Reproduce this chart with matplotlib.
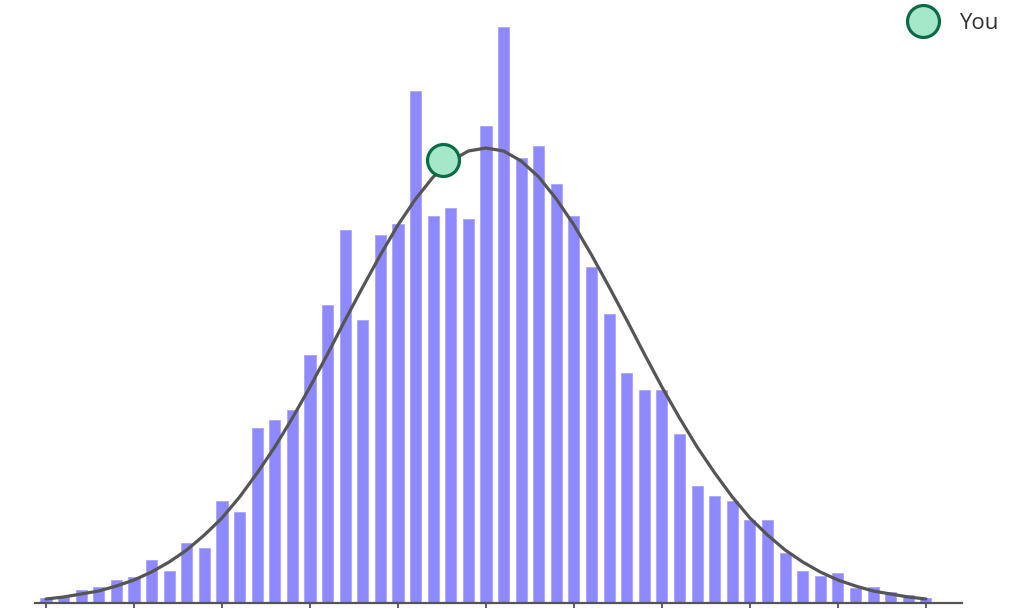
import matplotlib.pyplot as plt
from matplotlib.lines import Line2D

# histogram bins (index) and bar heights
bins = list(range(51))
counts = [5, 6, 13, 16, 23, 26, 43, 32, 60, 55,
          102, 91, 175, 183, 193, 248, 298, 373, 283, 368,
          379, 512, 387, 395, 384, 477, 576, 445, 457, 419,
          387, 336, 289, 230, 213, 213, 169, 117, 107, 102,
          83, 83, 50, 32, 27, 30, 15, 16, 11, 8, 5]

# fitted curve, one point per bin
curve = [4, 6, 9, 12, 17, 23, 31, 41, 53, 68,
         85, 106, 130, 156, 185, 216, 249, 283, 316, 348,
         378, 404, 426, 442, 452, 455, 452, 442, 426, 404,
         378, 348, 316, 283, 249, 216, 185, 156, 130, 106,
         85, 68, 53, 41, 31, 23, 17, 12, 9, 6, 4]

you_x = 22.55
you_y = 443
ticks = list(range(0, 51, 5))

plt.rcParams['font.family'] = ['Open Sans', 'DejaVu Sans']

fig = plt.figure(figsize=(10.12, 6.08), dpi=100)
ax = fig.add_axes([35 / 1012, 5 / 608, 927 / 1012, 603 / 608])

ax.bar(bins, counts, width=0.63, color='#8f89fe', edgecolor='#a9a5ff', linewidth=0.6, zorder=2)
ax.plot(bins, curve, color='#555555', lw=2.3, zorder=3, solid_capstyle='round')
ax.plot([you_x], [you_y], 'o', ms=23, mfc='#a4e8c9', mec='#0b6b47', mew=2.3, zorder=4)

ax.set_xlim(-0.625, 52.05)
ax.set_ylim(0, 603)
ax.set_xticks(ticks)
ax.set_xticklabels([])
ax.set_yticks([])
for s in ['top', 'right', 'left']:
    ax.spines[s].set_visible(False)
ax.spines['bottom'].set_color('#555555')
ax.spines['bottom'].set_linewidth(1.6)
ax.tick_params(axis='x', length=5, width=1.3, color='#555555', direction='out')

h = Line2D([], [], marker='o', ls='', ms=23, mfc='#a4e8c9', mec='#0b6b47', mew=2.3)
fig.legend([h], ['You'], loc='upper right', bbox_to_anchor=(1.004, 1.008), frameon=False,
           fontsize=16, labelcolor='#333333', handletextpad=0.6, borderpad=0.3)

fig.savefig('out.png', dpi=100)
